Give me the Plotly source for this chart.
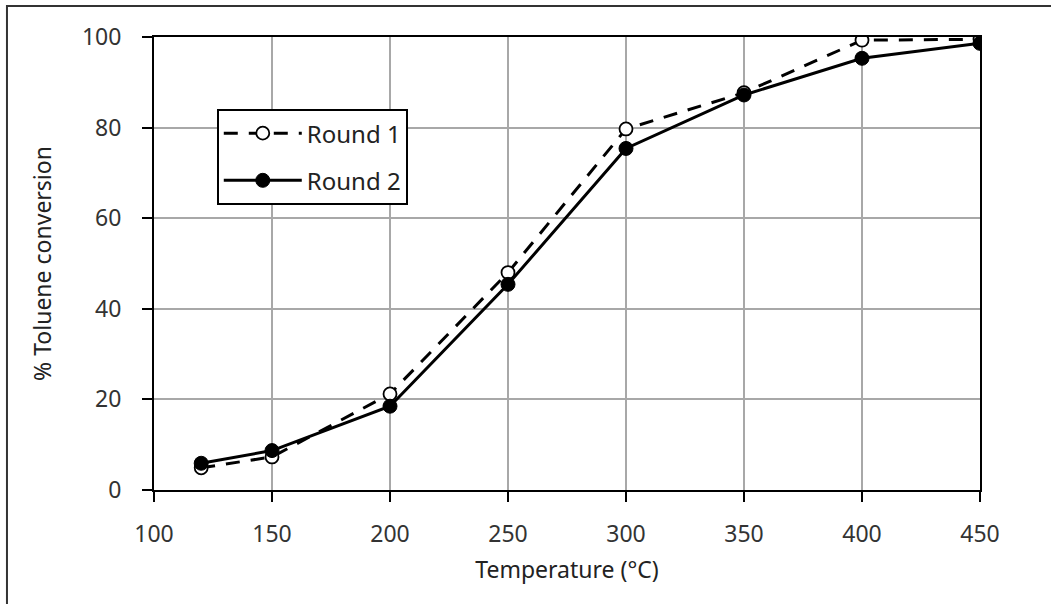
import plotly.graph_objects as go

temperature = [120, 150, 200, 250, 300, 350, 400, 450]
round1 = [4.9, 7.3, 21.2, 48.0, 79.7, 87.7, 99.3, 99.5]
round2 = [5.9, 8.7, 18.5, 45.4, 75.4, 87.2, 95.3, 98.6]
x_ticks = [100, 150, 200, 250, 300, 350, 400, 450]
y_ticks = [0, 20, 40, 60, 80, 100]

FONT = "Noto Sans"

fig = go.Figure()
fig.add_trace(go.Scatter(
    x=temperature, y=round1, name="Round 1", mode="lines+markers",
    legendgroup="r1",
    line=dict(color="black", width=3, dash="14px,11px"),
    marker=dict(symbol="circle", size=13, color="white",
                line=dict(color="black", width=1.8)),
))
fig.add_trace(go.Scatter(
    x=temperature, y=round2, name="Round 2", mode="lines+markers",
    legendgroup="r2",
    line=dict(color="black", width=3),
    marker=dict(symbol="circle", size=14, color="black",
                line=dict(color="black", width=1)),
))

axis_common = dict(
    showline=True, linecolor="black", linewidth=2, mirror=True,
    ticks="outside", ticklen=10, tickwidth=2, tickcolor="black",
    showgrid=True, gridcolor="#a8a8a8", gridwidth=1.5,
    zeroline=False,
    tickfont=dict(family=FONT, size=23, color="#333333"),
)

fig.update_xaxes(
    range=[100, 450], tickvals=x_ticks, ticktext=[str(v) for v in x_ticks],
    ticklabelstandoff=12,
    title=dict(text="Temperature (°C)", font=dict(family=FONT, size=23, color="#222222"), standoff=14),
    **axis_common,
)
fig.update_yaxes(
    range=[0, 100], tickvals=y_ticks, ticktext=[str(v) for v in y_ticks],
    ticklabelstandoff=16,
    title=dict(text="% Toluene conversion", font=dict(family=FONT, size=23, color="#222222"), standoff=24),
    **axis_common,
)

fig.add_shape(type="rect", xref="paper", yref="paper",
              x0=-0.178, x1=1.2, y0=-0.3, y1=1.0684,
              line=dict(color="#333333", width=2), fillcolor="rgba(0,0,0,0)",
              layer="below")

fig.update_layout(
    width=1051, height=604,
    margin=dict(l=154, r=71, t=37, b=114),
    paper_bgcolor="white", plot_bgcolor="white",
    showlegend=True,
    legend=dict(
        x=0.076, y=0.841, xanchor="left", yanchor="top",
        bgcolor="white", bordercolor="black", borderwidth=2,
        font=dict(family=FONT, size=24, color="#222222"),
        itemwidth=78, tracegroupgap=13,
    ),
)

fig.write_html("out.html")
